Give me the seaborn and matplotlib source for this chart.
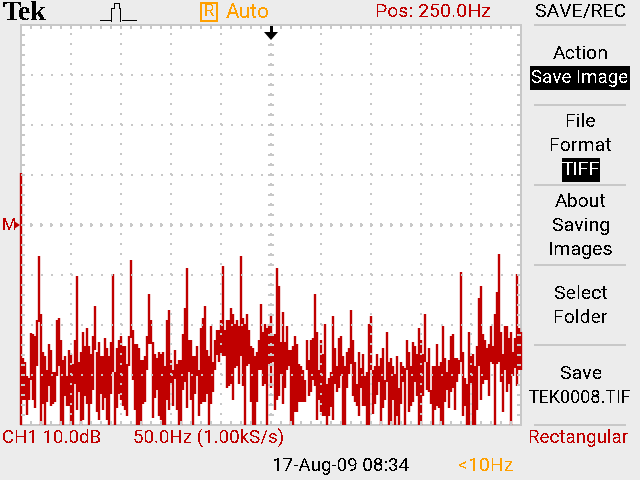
import numpy as np
import pandas as pd
import matplotlib.pyplot as plt
from matplotlib.lines import Line2D
from matplotlib.patches import Polygon, Rectangle
import seaborn as sns

# top and bottom of each display column of the trace, in dB above screen bottom
trace_top = [
    50.4, 13.5, 12.6, 9.8, 9.4, 18.5, 18.2, 17.8, 21, 33.8,
    22.2, 14.6, 13.8, 11, 16.2, 15, 10.6, 10.6, 21, 21.4,
    17, 13, 13.8, 9.8, 15, 14.2, 12.2, 17, 29.8, 12.6,
    14.6, 18.6, 15.8, 19.4, 15.8, 14.2, 17.8, 23.8, 14.6, 16.6,
    13.8, 13.8, 17.4, 15.4, 13.8, 16.6, 30.2, 10.6, 15.4, 17,
    17.8, 15.8, 15.8, 12.2, 17.8, 33, 19, 16.2, 16.2, 15.4,
    13, 13, 13.8, 17.8, 26.2, 21, 16.6, 14.2, 13.4, 14.6,
    14.2, 14.6, 11.8, 21, 23, 13, 11, 15, 12.2, 13,
    13, 18.2, 23.4, 31.4, 17, 17, 13.8, 13.8, 15.8, 11,
    19.4, 21.4, 23.8, 15, 13.8, 19.8, 12.6, 17, 19, 19,
    21, 31.8, 19, 21, 21, 23.4, 22.2, 20.2, 21, 19.8,
    33.8, 21.4, 20.2, 22.2, 19, 15.8, 15.4, 13.8, 14.6, 17,
    24.2, 18.6, 20.2, 19.4, 20.2, 21.8, 18.2, 18.2, 31.4, 27.8,
    16.6, 22.6, 16.6, 19.8, 15, 15, 15.8, 17.8, 16.2, 12.2,
    11.8, 11, 9, 17, 13, 17, 17.4, 26.2, 18.6, 11,
    17, 14.2, 20.2, 8.2, 9.4, 10.6, 21.8, 15.4, 11.8, 17.4,
    17.8, 13.8, 11.8, 14.6, 15.4, 23, 17, 12.6, 8.2, 14.6,
    11.4, 14.2, 9.8, 10.6, 20.2, 21.8, 11, 11.8, 14.2, 11.8,
    13.4, 15.4, 9, 18.6, 12.6, 13.4, 11.8, 10.2, 13.8, 7.4,
    12.6, 11.8, 11.4, 17, 14.6, 11.8, 16.6, 15.8, 14.2, 19.4,
    17, 14.2, 22.2, 12.6, 15.4, 7, 11.8, 11.8, 16.2, 11.8,
    12.6, 19.8, 13.4, 10.6, 13, 17.8, 18.2, 13.4, 13.4, 13,
    30.6, 14.6, 9.4, 8.2, 18.6, 13.8, 14.2, 11.8, 15.8, 25.4,
    27.8, 18.2, 17, 15.4, 16.2, 19.8, 15.8, 22.2, 26.6, 34.2,
    18.6, 14.2, 19.8, 19.8, 17.4, 18.6, 14.6, 17.4, 30.2, 19.4,
    18.6,
]
trace_bottom = [
    0, 5, 5, 2, 5, 9, 5, 3.4, 11.8, 20.6,
    0, 4.2, 0, 4.6, 7.8, 3.8, 4.2, 4.6, 9.8, 11.8,
    0, 0, 5.8, 3.8, 3.8, 0, 0, 8.2, 3, 6.6,
    0, 1, 5.8, 4.2, 0, 4.2, 7, 15, 2.6, 1,
    6.2, 3, 5.4, 1, 0, 6.2, 10.6, 0, 3.4, 6.2,
    5, 3.8, 3, 1.8, 11.8, 17.4, 9, 3, 0, 0,
    0, 4.2, 4.6, 11, 16.2, 16.2, 1.4, 5.4, 7, 1.8,
    1, 0, 0, 5, 3, 8.2, 3.8, 9.3, 3, 0,
    0, 7, 8.6, 3.4, 10.6, 5, 0, 6.2, 9.8, 1.8,
    4.2, 4.6, 4.6, 6.2, 0, 4.2, 6.6, 11, 14, 12.6,
    14, 13.8, 13.8, 7.4, 7.8, 8.2, 5, 11.4, 11.8, 8.2,
    13.8, 7.8, 0, 11.8, 12.2, 4.6, 0, 0, 4.6, 11,
    11, 7.8, 8.2, 0, 12.2, 7.4, 12.6, 3, 5, 5.8,
    10.2, 4.2, 7.4, 11, 11.8, 0, 0, 2.6, 2.6, 4.6,
    4.6, 4.6, 4.6, 11, 5.8, 6.6, 9, 7.8, 1, 5,
    2.6, 1.8, 1.8, 0, 1.8, 3.7, 1, 8.2, 6.6, 7.4,
    9.8, 0, 0, 7.4, 10.2, 12.2, 5.8, 4.6, 3.8, 1.8,
    7.4, 3.8, 3.8, 0, 0, 11, 2.2, 4.3, 6.1, 8.6,
    0, 3.4, 5, 8.6, 0, 0, 5, 0, 1.8, 0,
    4.2, 8.6, 0, 11, 2.6, 3.8, 4.6, 8.6, 5.8, 0,
    0, 5.8, 12.6, 7, 6.6, 4.2, 0, 3, 3.8, 3.4,
    0, 0, 4.6, 7, 3.4, 6.6, 7.4, 3, 8.6, 10.2,
    12.6, 1.8, 3.8, 0, 0, 8.2, 0, 0, 3, 11.8,
    5, 8.2, 9, 9, 5.8, 12.6, 12.2, 0, 12.2, 12.6,
    8.6, 2.6, 11, 6.6, 8.2, 0, 9.8, 11.4, 7.8, 11,
    11,
]

menu_black = [("SAVE/REC", 10), ("Action", 52), ("File", 120), ("Format", 144),
              ("About", 200), ("Saving", 224), ("Images", 248), ("Select", 292),
              ("Folder", 316), ("Save", 372)]
menu_rules = [25, 105, 185, 265, 345, 425]

BG = '#ECECEC'
GRID = '#C8C8C8'
RED = '#C00000'
ORANGE = '#FFA000'
W, H = 640, 480

sns.set_theme(style='white')
plt.rcParams['font.family'] = ['Roboto', 'Liberation Sans', 'DejaVu Sans']
plt.rcParams['text.antialiased'] = False

fig = plt.figure(figsize=(6.4, 4.8), dpi=100, facecolor=BG)
ax = fig.add_axes([21 / W, 1 - 425 / H, 500 / W, 400 / H], facecolor='white')


def label(x, y, s, color='black', size=14, ha='center', **kw):
    return fig.text(x / W, 1 - (y + 2) / H, s, color=color, fontsize=size, ha=ha, va='center', **kw)


def px_line(xs, ys, color=GRID, lw=1.44, **kw):
    fig.add_artist(Line2D([x / W for x in xs], [1 - y / H for y in ys], color=color, lw=lw,
                          solid_capstyle='butt', antialiased=False, **kw))


# long table for seaborn: each display column is one vertical stroke
bins = np.arange(len(trace_top))
df = pd.DataFrame({'bin': np.tile(bins, 2),
                   'freq': np.tile(bins * 2, 2),
                   'db': trace_top + trace_bottom})
sns.lineplot(data=df, x='freq', y='db', units='bin', estimator=None, sort=False, color=RED,
             lw=1.7, solid_capstyle='butt', clip_on=False, legend=False, ax=ax)

ax.set_xlim(0, 500)
ax.set_ylim(0, 80)
ax.set_xlabel('')
ax.set_ylabel('')
ax.set_xticks(np.arange(50, 500, 50))
ax.set_yticks(np.arange(10, 80, 10))
ax.set_xticks(np.arange(10, 500, 10), minor=True)
ax.set_yticks(np.arange(2, 80, 2), minor=True)
ax.tick_params(which='both', direction='in', top=True, right=True, bottom=True, left=True,
               color=GRID, width=1.44, length=2.9, labelbottom=False, labelleft=False)
ax.grid(True, which='major', color=GRID, lw=1.44, linestyle=(0, (1, 4)))
ax.set_axisbelow(False)
for sp in ax.spines.values():
    sp.set_color(GRID)
    sp.set_linewidth(1.44)
    sp.set_zorder(1)

# centre graticule cross
ax.plot(np.full(39, 250), np.arange(2, 80, 2), ls='', marker='_', ms=4.5, mew=1.44, color=GRID,
        zorder=2.5)
ax.plot(np.arange(10, 500, 10), np.full(49, 40), ls='', marker='|', ms=3.5, mew=1.44, color=GRID,
        zorder=2.5)

# header
label(3, 11, 'Tek', size=20, ha='left', family='Liberation Serif', weight='bold')
for dx in (100, 103, 106, 109, 122, 125, 128, 131, 134):
    px_line([dx, dx + 2], [20, 20], color='black', lw=0.72)
px_line([111, 111, 114, 114, 119, 119, 120, 120],
        [21, 8, 8, 3, 3, 8, 8, 21], color='black', lw=0.72)
fig.add_artist(Rectangle((201 / W, 1 - 21 / H), 16 / W, 18 / H, fill=False, ec=ORANGE, lw=1.44,
                         transform=fig.transFigure, antialiased=False))
label(209, 10, 'R', color=ORANGE, size=12)
label(226, 10, 'Auto', color=ORANGE, size=15, ha='left')
label(433, 10, 'Pos: 250.0Hz', color=RED, size=14)

# trigger arrow
px_line([271, 271], [26, 34], color='black', lw=2)
fig.add_artist(Polygon([(264 / W, 1 - 32 / H), (278 / W, 1 - 32 / H), (271 / W, 1 - 40 / H)],
                       closed=True, fc='black', ec='none', transform=fig.transFigure))

# menu
for y in menu_rules:
    px_line([534, 626], [y, y], lw=1.44)
for s, y in menu_black:
    label(581, y, s)
label(580, 396, 'TEK0008.TIF', size=13)
fig.add_artist(Rectangle((530 / W, 1 - 90 / H), 100 / W, 24 / H, fc='black', ec='none',
                         transform=fig.transFigure))
label(580, 76, 'Save Image', color='white', size=13.5)
fig.add_artist(Rectangle((562 / W, 1 - 182 / H), 38 / W, 24 / H, fc='black', ec='none',
                         transform=fig.transFigure))
label(581, 168, 'TIFF', color='white')

# footer
label(2, 436, 'CH1 10.0dB', color=RED, ha='left', size=13.5)
label(133, 436, '50.0Hz (1.00kS/s)', color=RED, ha='left', size=13.5)
label(579, 436, 'Rectangular', color=RED, size=13.5)
label(340, 464, '17-Aug-09 08:34', size=13.5)
label(486, 464, '<10Hz', color=ORANGE, size=14)

# ground marker
label(2, 224, 'M', color=RED, size=12, ha='left')
fig.add_artist(Polygon([(14 / W, 1 - 221 / H), (14 / W, 1 - 229 / H), (20 / W, 1 - 225 / H)],
                       closed=True, fc=RED, ec='none', transform=fig.transFigure))

fig.savefig('out.png', dpi=100, facecolor=BG)
